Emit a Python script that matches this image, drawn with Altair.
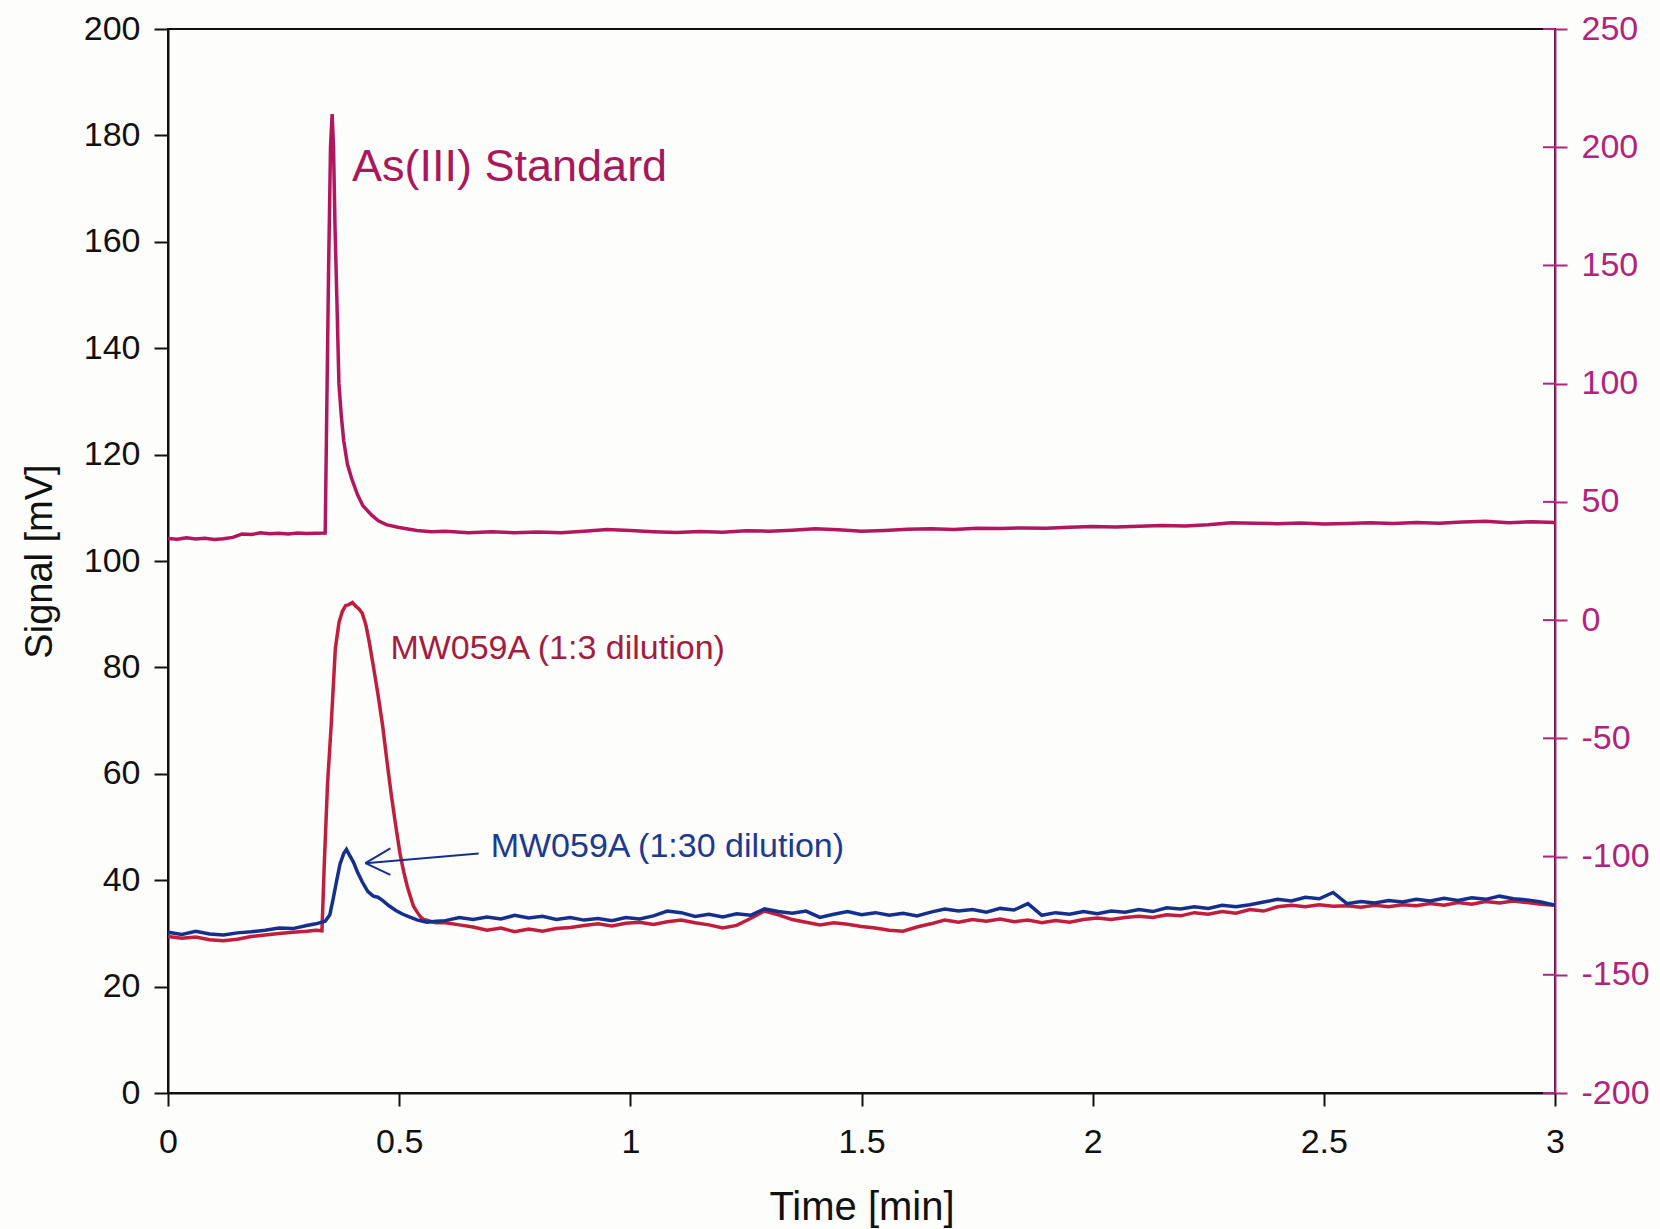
import altair as alt
import pandas as pd

# ---------------- data ----------------
# MW059A (1:3 dilution)  -- left axis, mV
red_t = [0.00, 0.03, 0.06, 0.09, 0.12, 0.15, 0.18, 0.21, 0.24, 0.27, 0.30, 0.32,
         0.333, 0.338, 0.345, 0.353, 0.362, 0.370, 0.377, 0.384, 0.391, 0.399, 0.406, 0.413,
         0.420, 0.428, 0.435, 0.444, 0.454, 0.464, 0.473, 0.483, 0.493, 0.502, 0.510, 0.517,
         0.524, 0.531, 0.539, 0.546, 0.553, 0.560, 0.570, 0.580,
         0.60, 0.63, 0.66, 0.69, 0.72, 0.75, 0.78, 0.81, 0.84, 0.87, 0.90, 0.93, 0.96, 0.99,
         1.02, 1.05, 1.08, 1.11, 1.14, 1.17, 1.20, 1.23, 1.26, 1.29, 1.32, 1.35, 1.38, 1.41,
         1.44, 1.47, 1.50, 1.53, 1.56, 1.59, 1.62, 1.65, 1.68, 1.71, 1.74, 1.77, 1.80, 1.83,
         1.86, 1.89, 1.92, 1.95, 1.98, 2.01, 2.04, 2.07, 2.10, 2.13, 2.16, 2.19, 2.22, 2.25,
         2.28, 2.31, 2.34, 2.37, 2.40, 2.43, 2.46, 2.49, 2.52, 2.55, 2.58, 2.61, 2.64, 2.67,
         2.70, 2.73, 2.76, 2.79, 2.82, 2.85, 2.88, 2.91, 2.94, 2.97, 3.00]
red_v = [29.4, 29.1, 29.3, 28.8, 28.6, 28.9, 29.4, 29.7, 30.0, 30.2, 30.4, 30.6,
         30.5, 43.0, 58.0, 69.2, 83.6, 88.5, 90.5, 91.6, 91.8, 92.2, 91.5, 91.0,
         90.2, 88.0, 84.9, 80.3, 75.0, 69.2, 62.8, 56.0, 50.0, 44.9, 41.5, 39.0,
         37.0, 35.1, 34.0, 33.1, 32.6, 32.5, 32.2, 32.0,
         32.0, 31.6, 31.2, 30.6, 31.0, 30.3, 30.8, 30.4, 30.9, 31.1, 31.5, 31.8, 31.4, 31.9,
         32.1, 31.7, 32.2, 32.5, 32.0, 31.6, 31.0, 31.5, 32.8, 34.2, 33.5, 32.6, 32.1, 31.6,
         32.0, 31.7, 31.3, 31.0, 30.6, 30.4, 31.2, 31.8, 32.5, 32.1, 32.6, 32.3, 32.7, 32.2,
         32.5, 32.0, 32.4, 32.1, 32.6, 32.9, 32.6, 33.0, 33.2, 33.0, 33.5, 33.3, 33.9, 33.6,
         34.1, 33.8, 34.5, 34.2, 35.0, 35.3, 35.0, 35.4, 35.1, 35.2, 34.9, 35.3, 35.0, 35.4,
         35.2, 35.6, 35.3, 35.8, 35.5, 36.0, 35.7, 36.1, 35.8, 35.5, 35.3]

# MW059A (1:30 dilution) -- left axis, mV
blue_t = [0.00, 0.03, 0.06, 0.09, 0.12, 0.15, 0.18, 0.21, 0.24, 0.27, 0.30, 0.32, 0.34,
          0.350, 0.357, 0.365, 0.372, 0.380, 0.386, 0.392, 0.401, 0.410, 0.420, 0.432,
          0.444, 0.454, 0.464, 0.478, 0.493, 0.508, 0.522, 0.540, 0.560, 0.580,
          0.60, 0.63, 0.66, 0.69, 0.72, 0.75, 0.78, 0.81, 0.84, 0.87, 0.90, 0.93, 0.96, 0.99,
          1.02, 1.05, 1.08, 1.11, 1.14, 1.17, 1.20, 1.23, 1.26, 1.29, 1.32, 1.35, 1.38, 1.41,
          1.44, 1.47, 1.50, 1.53, 1.56, 1.59, 1.62, 1.65, 1.68, 1.71, 1.74, 1.77, 1.80, 1.83,
          1.86, 1.89, 1.92, 1.95, 1.98, 2.01, 2.04, 2.07, 2.10, 2.13, 2.16, 2.19, 2.22, 2.25,
          2.28, 2.31, 2.34, 2.37, 2.40, 2.43, 2.46, 2.49, 2.52, 2.55, 2.58, 2.61, 2.64, 2.67,
          2.70, 2.73, 2.76, 2.79, 2.82, 2.85, 2.88, 2.91, 2.94, 2.97, 3.00]
blue_v = [30.2, 29.8, 30.4, 29.9, 29.7, 30.1, 30.3, 30.6, 31.0, 30.9, 31.5, 31.8, 32.3,
          33.5, 36.4, 40.0, 43.0, 45.0, 45.8, 44.8, 43.4, 41.5, 39.7, 37.9,
          37.0, 36.8, 36.2, 35.2, 34.3, 33.6, 33.1, 32.5, 32.1, 32.3,
          32.4, 33.0, 32.6, 33.1, 32.7, 33.4, 32.9, 33.2, 32.6, 33.0, 32.5, 32.8, 32.4, 33.0,
          32.7, 33.3, 34.2, 33.9, 33.2, 33.6, 33.1, 33.7, 33.4, 34.6, 34.1, 33.8, 34.2, 33.0,
          33.6, 34.1, 33.5, 33.9, 33.4, 33.8, 33.3, 34.0, 34.6, 34.2, 34.5, 34.0, 34.7, 34.4,
          35.6, 33.4, 33.9, 33.6, 34.1, 33.7, 34.2, 34.0, 34.5, 34.1, 34.8, 34.6, 35.0, 34.7,
          35.3, 35.0, 35.4, 35.9, 36.4, 36.1, 36.8, 36.5, 37.7, 35.6, 36.0, 35.7, 36.2, 35.9,
          36.4, 36.1, 36.6, 36.2, 36.7, 36.4, 37.0, 36.5, 36.3, 35.9, 35.3]

# As(III) Standard -- right axis
std_t = [0.00, 0.02, 0.04, 0.06, 0.08, 0.10, 0.12, 0.14, 0.16, 0.18, 0.20, 0.22, 0.24,
         0.26, 0.28, 0.30, 0.32, 0.340, 0.3435, 0.3474, 0.3515, 0.355, 0.358, 0.3614,
         0.3656, 0.3697, 0.375, 0.380, 0.388, 0.397, 0.410, 0.4216, 0.440, 0.455, 0.472,
         0.500, 0.538, 0.570,
         0.60, 0.65, 0.70, 0.75, 0.80, 0.85, 0.90, 0.95, 1.00, 1.05, 1.10, 1.15, 1.20, 1.25,
         1.30, 1.35, 1.40, 1.45, 1.50, 1.55, 1.60, 1.65, 1.70, 1.75, 1.80, 1.85, 1.90, 1.95,
         2.00, 2.05, 2.10, 2.15, 2.20, 2.25, 2.30, 2.35, 2.40, 2.45, 2.50, 2.55, 2.60, 2.65,
         2.70, 2.75, 2.80, 2.85, 2.90, 2.95, 3.00]
std_r = [34.5, 34.2, 34.8, 34.3, 34.6, 34.1, 34.4, 35.0, 36.4, 36.2, 36.9, 36.5, 36.7,
         36.4, 36.8, 36.6, 36.7, 36.8, 90.0, 149.0, 200.0, 214.0, 200.0, 165.0,
         133.0, 100.0, 86.0, 76.0, 66.0, 60.0, 53.0, 48.4, 44.5, 42.0, 40.4,
         39.2, 37.9, 37.4,
         37.6, 37.0, 37.4, 36.9, 37.3, 37.0, 37.6, 38.3, 37.9, 37.4, 37.1, 37.5, 37.2, 37.8,
         37.6, 38.0, 38.6, 38.2, 37.6, 37.9, 38.4, 38.6, 38.3, 38.9, 38.7, 39.0, 38.8, 39.3,
         39.6, 39.4, 39.7, 40.0, 39.8, 40.3, 41.2, 41.0, 40.8, 41.1, 40.7, 40.9, 41.2, 40.9,
         41.3, 41.0, 41.5, 41.8, 41.2, 41.6, 41.3]

x_ticks = [0, 0.5, 1, 1.5, 2, 2.5, 3]
left_ticks = [0, 20, 40, 60, 80, 100, 120, 140, 160, 180, 200]
right_ticks = [-200, -150, -100, -50, 0, 50, 100, 150, 200, 250]

labels = ["As(III) Standard", "MW059A (1:3 dilution)", "MW059A (1:30 dilution)"]
label_t = [0.398, 0.481, 0.698]
label_v = [171.5, 81.6, 44.3]
label_size = [45, 34, 34]

# arrow (shaft + two arms), left-axis units
arrow_t1 = [0.672, 0.427, 0.427]
arrow_v1 = [45.0, 43.2, 43.2]
arrow_t2 = [0.427, 0.481, 0.481]
arrow_v2 = [43.2, 46.0, 41.0]

# ---------------- styling ----------------
C_STD = "#B2165E"
C_RED = "#C01E3C"
C_BLUE = "#15308C"
C_RAXIS = "#B3237C"
C_STD_TXT = "#A8185A"
C_RED_TXT = "#A61C40"
C_BLUE_TXT = "#1C3A90"
FONT = "Liberation Sans"

W, H = 1387, 1064

red_df = pd.DataFrame({"t": red_t, "v": red_v})
blue_df = pd.DataFrame({"t": blue_t, "v": blue_v})
std_df = pd.DataFrame({"t": std_t, "r": std_r})
lab_df = pd.DataFrame({"t": label_t, "v": label_v, "label": labels,
                       "fs": label_size, "col": [C_STD_TXT, C_RED_TXT, C_BLUE_TXT]})
arr_df = pd.DataFrame({"t": arrow_t1, "v": arrow_v1, "t2": arrow_t2, "v2": arrow_v2})
rtick_df = pd.DataFrame({"r": right_ticks})

x_scale = alt.Scale(domain=[0, 3], nice=False, zero=False)
yl_scale = alt.Scale(domain=[0, 200], nice=False)
yr_scale = alt.Scale(domain=[-200, 250], nice=False, zero=False)

x_axis = alt.Axis(values=x_ticks, format="~g", tickSize=13, tickWidth=2, tickColor="#111",
                  domainColor="#111", domainWidth=2, labelFontSize=34, labelColor="#111",
                  labelPadding=19, labelFlush=False, title="Time [min]", titleFontSize=40,
                  titlePadding=28, titleFontWeight="normal", titleColor="#111", grid=False)
yl_axis = alt.Axis(values=left_ticks, tickSize=14, tickWidth=2, tickColor="#111",
                   domainColor="#111", domainWidth=2, labelFontSize=34, labelColor="#111",
                   labelPadding=14, labelFlush=False, title="Signal [mV]", titleFontSize=38,
                   titlePadding=24, titleFontWeight="normal", titleColor="#111", grid=False)
yr_axis = alt.Axis(values=right_ticks, orient="right", tickSize=12, tickWidth=2,
                   tickColor=C_RAXIS, domainColor=C_RAXIS, domainWidth=2, labelFontSize=34,
                   labelColor=C_RAXIS, labelPadding=14, labelFlush=False, grid=False,
                   labelExpr="datum.value < 0 ? '-' + abs(datum.value) : '' + datum.value")

X = alt.X("t:Q", scale=x_scale, axis=x_axis, title="Time [min]")
YL = alt.Y("v:Q", scale=yl_scale, axis=yl_axis, title="Signal [mV]")

red_line = alt.Chart(red_df).mark_line(color=C_RED, strokeWidth=3.5).encode(x=X, y=YL)
blue_line = alt.Chart(blue_df).mark_line(color=C_BLUE, strokeWidth=3.5).encode(x=X, y=YL)
arrow = alt.Chart(arr_df).mark_rule(color=C_BLUE, strokeWidth=2).encode(
    x=X, y=YL, x2="t2:Q", y2="v2:Q")
texts = alt.Chart(lab_df).mark_text(align="left", baseline="alphabetic", font=FONT).encode(
    x=X, y=YL, text="label:N",
    color=alt.Color("col:N", scale=None),
    size=alt.Size("fs:Q", scale=None))

left = alt.layer(red_line, blue_line, arrow, texts)

YR = alt.Y("r:Q", scale=yr_scale, axis=yr_axis, title=None)
std_line = alt.Chart(std_df).mark_line(color=C_STD, strokeWidth=3.5).encode(x=X, y=YR)
inner_ticks = alt.Chart(rtick_df).mark_rule(color=C_RAXIS, strokeWidth=2).encode(
    y=YR, x=alt.value(W - 12), x2=alt.value(W))
right = alt.layer(std_line, inner_ticks)

chart = alt.layer(left, right).resolve_scale(y="independent").properties(
    width=W, height=H,
    autosize=alt.AutoSizeParams(type="none"),
    padding={"left": 168, "top": 29, "right": 105, "bottom": 136},
    background="#FDFDFB",
).configure_view(stroke="#111", strokeWidth=2).configure_axis(
    labelFont=FONT, titleFont=FONT
).configure_text(font=FONT)

chart.save("out.html", embed_options={"renderer": "svg", "actions": False})
